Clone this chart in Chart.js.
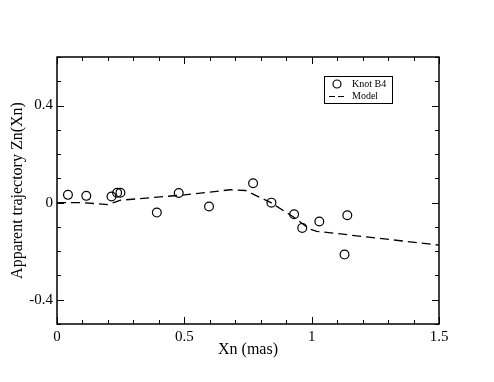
<!DOCTYPE html>
<html lang="en">
<head>
    <meta charset="UTF-8">
    <title>Apparent trajectory</title>
    <script src="https://cdn.jsdelivr.net/npm/chart.js"></script>
    <style>
        html, body { margin: 0; padding: 0; background: #fff; }
        #wrap { width: 494px; height: 382px; }
    </style>
</head>
<body>
    <div id="wrap"><canvas id="chart"></canvas></div>
    <script>
        // Knot B4 observations
        const knotX = [0.043, 0.115, 0.214, 0.236, 0.249, 0.392, 0.478, 0.597, 0.770, 0.842, 0.931, 0.963, 1.030, 1.129, 1.140];
        const knotY = [0.032, 0.028, 0.025, 0.041, 0.041, -0.041, 0.040, -0.016, 0.080, 0.000, -0.048, -0.104, -0.078, -0.214, -0.052];

        // model curve
        const modelX = [0, 0.1, 0.2, 0.25, 0.5, 0.68, 0.74, 0.84, 0.93, 0.99, 1.02, 1.5];
        const modelY = [0, 0, -0.008, 0.01, 0.032, 0.053, 0.05, 0.0, -0.06, -0.108, -0.118, -0.175];

        const xLabels = [0, 0.5, 1, 1.5];
        const yLabels = [-0.4, 0, 0.4];
        const xRange = [0, 1.5];
        const yRange = [-0.5, 0.6];

        const serif = "'Liberation Serif', 'DejaVu Serif', serif";

        function isLabel(v, list) {
            return list.some(l => Math.abs(l - v) < 1e-6);
        }

        function minorTicks(min, max) {
            const out = [];
            for (let i = Math.round(min * 10); i <= Math.round(max * 10); i++) out.push({value: i / 10});
            return out;
        }

        // frame + inward ticks on all four sides
        const framePlugin = {
            id: 'frame',
            afterDraw(chart) {
                const {ctx, chartArea: a, scales} = chart;
                ctx.save();
                ctx.strokeStyle = '#000';
                ctx.lineWidth = 1;
                scales.x.ticks.forEach(t => {
                    const px = Math.round(scales.x.getPixelForValue(t.value)) + 0.5;
                    const len = isLabel(t.value, xLabels) ? 7 : 4;
                    ctx.beginPath();
                    ctx.moveTo(px, a.bottom); ctx.lineTo(px, a.bottom - len);
                    ctx.moveTo(px, a.top); ctx.lineTo(px, a.top + len);
                    ctx.stroke();
                });
                scales.y.ticks.forEach(t => {
                    const py = Math.round(scales.y.getPixelForValue(t.value)) + 0.5;
                    const len = isLabel(t.value, yLabels) ? 7 : 4;
                    ctx.beginPath();
                    ctx.moveTo(a.left, py); ctx.lineTo(a.left + len, py);
                    ctx.moveTo(a.right, py); ctx.lineTo(a.right - len, py);
                    ctx.stroke();
                });
                ctx.lineWidth = 1.5;
                ctx.strokeRect(a.left, a.top, a.right - a.left, a.bottom - a.top);

                // legend box
                const lx = 324, ly = 76, lw = 68, lh = 27;
                ctx.fillStyle = '#fff';
                ctx.fillRect(lx, ly, lw, lh);
                ctx.lineWidth = 1;
                ctx.strokeRect(lx + 0.5, ly + 0.5, lw, lh);
                ctx.lineWidth = 1.2;
                ctx.beginPath();
                ctx.arc(337, 84, 4, 0, Math.PI * 2);
                ctx.stroke();
                ctx.setLineDash([6, 3]);
                ctx.beginPath();
                ctx.moveTo(329, 96.5); ctx.lineTo(345, 96.5);
                ctx.stroke();
                ctx.setLineDash([]);
                ctx.fillStyle = '#000';
                ctx.font = '10px ' + serif;
                ctx.textBaseline = 'middle';
                ctx.fillText('Knot B4', 352, 84);
                ctx.fillText('Model', 352, 96);
                ctx.restore();
            }
        };

        new Chart(document.getElementById('chart'), {
            type: 'scatter',
            data: {
                datasets: [{
                    label: 'Knot B4',
                    data: knotX.map((x, i) => ({x: x, y: knotY[i]})),
                    pointStyle: 'circle',
                    pointRadius: 4.4,
                    borderColor: '#000',
                    backgroundColor: 'rgba(0,0,0,0)',
                    borderWidth: 1.2
                }, {
                    label: 'Model',
                    data: modelX.map((x, i) => ({x: x, y: modelY[i]})),
                    showLine: true,
                    pointRadius: 0,
                    borderColor: '#000',
                    borderWidth: 1.3,
                    borderDash: [9, 5],
                    tension: 0
                }]
            },
            options: {
                responsive: true,
                maintainAspectRatio: false,
                animation: false,
                events: [],
                layout: {padding: {left: 0, top: 57, right: 55, bottom: 18}},
                plugins: {legend: {display: false}, tooltip: {enabled: false}},
                scales: {
                    x: {
                        type: 'linear',
                        min: xRange[0], max: xRange[1],
                        afterBuildTicks: s => { s.ticks = minorTicks(xRange[0], xRange[1]); },
                        afterFit: s => { s.height = 40; },
                        grid: {display: false, drawTicks: false},
                        border: {display: false},
                        ticks: {
                            autoSkip: false, maxRotation: 0, padding: 4,
                            color: '#000', font: {family: serif, size: 15},
                            callback: v => isLabel(v, xLabels) ? String(+v.toFixed(1)) : ''
                        },
                        title: {display: true, text: 'Xn (mas)', color: '#000',
                            font: {family: serif, size: 16}, padding: {top: 5, bottom: 5}}
                    },
                    y: {
                        type: 'linear',
                        min: yRange[0], max: yRange[1],
                        afterBuildTicks: s => { s.ticks = minorTicks(yRange[0], yRange[1]); },
                        afterFit: s => { s.width = 57; },
                        grid: {display: false, drawTicks: false},
                        border: {display: false},
                        ticks: {
                            autoSkip: false, padding: 4,
                            color: '#000', font: {family: serif, size: 15},
                            callback: v => isLabel(v, yLabels) ? String(+v.toFixed(1)) : ''
                        },
                        title: {display: true, text: 'Apparent trajectory Zn(Xn)', color: '#000',
                            font: {family: serif, size: 16}, padding: {top: 8, bottom: 8}}
                    }
                }
            },
            plugins: [framePlugin]
        });
    </script>
</body>
</html>
